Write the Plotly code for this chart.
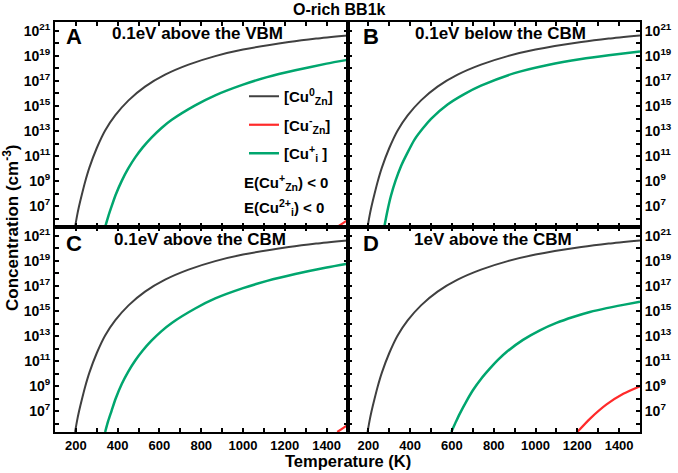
import plotly.graph_objects as go
from plotly.subplots import make_subplots

# temperatures (K) and log10 concentrations (cm^-3)
t_cu0 = [196, 205, 215, 228, 245, 265, 300, 340, 388, 452, 531, 627, 739, 867, 1000, 1219, 1350, 1500]
lg_cu0 = [5.35, 6.2, 7.0, 7.9, 9.0, 10.1, 11.65, 13.05, 14.25, 15.45, 16.55, 17.5, 18.3, 18.98, 19.5, 20.1, 20.38, 20.63]

t_cui_a = [340, 355, 370, 390, 420, 450, 484, 520, 563, 610, 659, 771, 867, 1000, 1115, 1250, 1400, 1500]
lg_cui_a = [5.35, 6.2, 6.95, 7.9, 9.05, 10.0, 10.9, 11.7, 12.5, 13.25, 13.9, 15.05, 15.85, 16.7, 17.3, 17.85, 18.38, 18.68]

t_cui_b = [276, 290, 308, 330, 356, 385, 420, 460, 500, 579, 659, 739, 899, 1059, 1219, 1350, 1500]
lg_cui_b = [5.35, 6.55, 7.84, 9.05, 10.2, 11.2, 12.3, 13.2, 13.98, 15.12, 15.95, 16.62, 17.62, 18.27, 18.75, 19.05, 19.35]

t_cui_c = [340, 355, 370, 390, 420, 450, 484, 520, 563, 610, 659, 771, 867, 1000, 1115, 1250, 1400, 1500]
lg_cui_c = [5.35, 6.25, 7.0, 8.0, 9.2, 10.15, 11.05, 11.85, 12.65, 13.4, 14.05, 15.2, 16.0, 16.82, 17.4, 17.95, 18.47, 18.77]

t_cui_d = [597, 620, 637, 669, 701, 740, 781, 820, 861, 940, 1021, 1100, 1180, 1260, 1340, 1420, 1500]
lg_cui_d = [5.35, 6.2, 6.8, 7.8, 8.7, 9.6, 10.4, 11.1, 11.73, 12.7, 13.46, 14.05, 14.52, 14.92, 15.23, 15.49, 15.73]

t_cum_ac = [1451, 1475, 1500]
lg_cum_ac = [5.35, 5.62, 5.9]

t_cum_d = [1200, 1260, 1340, 1420, 1500]
lg_cum_d = [5.35, 6.4, 7.55, 8.4, 9.0]

panel_letters = ["A", "B", "C", "D"]
panel_titles = ["0.1eV above the VBM", "0.1eV below the CBM", "0.1eV above the CBM", "1eV above the CBM"]

GREY = "#404040"
RED = "#ff2a2a"
GREEN = "#00a66e"
FONT = "Liberation Sans"


def pw(vals):
    return [10.0 ** v for v in vals]


fig = make_subplots(rows=2, cols=2, horizontal_spacing=0, vertical_spacing=0)

panels = [
    (1, 1, lg_cum_ac, t_cum_ac, t_cui_a, lg_cui_a),
    (1, 2, None, None, t_cui_b, lg_cui_b),
    (2, 1, lg_cum_ac, t_cum_ac, t_cui_c, lg_cui_c),
    (2, 2, lg_cum_d, t_cum_d, t_cui_d, lg_cui_d),
]

for i, (r, c, lg_red, t_red, t_green, lg_green) in enumerate(panels):
    first = i == 0
    fig.add_trace(go.Scatter(x=t_cu0, y=pw(lg_cu0), mode="lines", line=dict(color=GREY, width=2, shape="spline", smoothing=0.6),
                             name="[Cu<sup>0</sup><sub>Zn</sub>]", legendgroup="g1", showlegend=first), row=r, col=c)
    if lg_red is not None:
        fig.add_trace(go.Scatter(x=t_red, y=pw(lg_red), mode="lines", line=dict(color=RED, width=2.2, shape="spline", smoothing=0.6),
                                 name="[Cu<sup>-</sup><sub>Zn</sub>]", legendgroup="g2", showlegend=first), row=r, col=c)
    fig.add_trace(go.Scatter(x=t_green, y=pw(lg_green), mode="lines", line=dict(color=GREEN, width=2.5, shape="spline", smoothing=0.6),
                             name="[Cu<sup>+</sup><sub>i</sub> ]", legendgroup="g3", showlegend=first), row=r, col=c)

ytv = [10.0 ** k for k in range(6, 22)]
ytt = ["10<sup>%d</sup>" % k if k % 2 else "" for k in range(6, 22)]
xtv = list(range(200, 1500, 100))
xtt = [str(v) if v % 200 == 0 else "" for v in xtv]

ytickfont = dict(family=FONT, size=14, color="black", weight="bold")
xtickfont = dict(family=FONT, size=13, color="black", weight="bold")

for r in (1, 2):
    for c in (1, 2):
        fig.update_xaxes(range=[100, 1500], tickmode="array", tickvals=xtv, ticktext=xtt,
                         ticks="inside", ticklen=4, tickwidth=1.5, tickcolor="black",
                         showline=True, linecolor="black", linewidth=2, mirror="ticks",
                         showgrid=False, zeroline=False, showticklabels=(r == 2), automargin=False,
                         tickfont=xtickfont, row=r, col=c)
        fig.update_yaxes(type="log", range=[5.35, 21.7], tickmode="array", tickvals=ytv, ticktext=ytt,
                         ticks="inside", ticklen=4, tickwidth=1.5, tickcolor="black",
                         showline=True, linecolor="black", linewidth=2, mirror="ticks",
                         showgrid=False, zeroline=False, side="left" if c == 1 else "right", automargin=False,
                         tickfont=ytickfont, row=r, col=c)

# panel labels and captions
W, H = 678, 473
ml, mr, mt, mb = 55, 38, 22, 41


def px(x):
    return (x - ml) / (W - ml - mr)


def py(y):
    return 1 - (y - mt) / (H - mt - mb)


label_pos = [(64, 36), (361, 36), (64, 243), (361, 243)]
title_pos = [(197, 33), (500, 33), (200, 239), (493, 239)]
ann = []
for k in range(4):
    ann.append(dict(x=px(label_pos[k][0]), y=py(label_pos[k][1]), xref="paper", yref="paper", text=panel_letters[k],
                    showarrow=False, xanchor="left", yanchor="middle", font=dict(family=FONT, size=22, weight="bold", color="black")))
    ann.append(dict(x=px(title_pos[k][0]), y=py(title_pos[k][1]), xref="paper", yref="paper", text=panel_titles[k],
                    showarrow=False, xanchor="center", yanchor="middle", font=dict(family=FONT, size=17, weight="bold", color="black")))

ann.append(dict(x=px(242), y=py(182), xref="paper", yref="paper", text="E(Cu<sup>+</sup><sub>Zn</sub>) &lt; 0",
                showarrow=False, xanchor="left", yanchor="middle", font=dict(family=FONT, size=15, weight="bold", color="black")))
ann.append(dict(x=px(242), y=py(208), xref="paper", yref="paper", text="E(Cu<sup>2+</sup><sub>i</sub>) &lt; 0",
                showarrow=False, xanchor="left", yanchor="middle", font=dict(family=FONT, size=15, weight="bold", color="black")))
ann.append(dict(x=px(339), y=py(10), xref="paper", yref="paper", text="O-rich BB1k",
                showarrow=False, xanchor="center", yanchor="middle", font=dict(family=FONT, size=16, weight="bold", color="black")))
ann.append(dict(x=px(348), y=py(461), xref="paper", yref="paper", text="Temperature (K)",
                showarrow=False, xanchor="center", yanchor="middle", font=dict(family=FONT, size=16.5, weight="bold", color="black")))
ann.append(dict(x=px(11), y=py(228), xref="paper", yref="paper", text="Concentration (cm<sup>-3</sup>)", textangle=-90,
                showarrow=False, xanchor="center", yanchor="middle", font=dict(family=FONT, size=17, weight="bold", color="black")))

fig.update_layout(
    width=W, height=H,
    margin=dict(l=ml, r=mr, t=mt, b=mb, autoexpand=False),
    paper_bgcolor="white", plot_bgcolor="white",
    annotations=ann,
    legend=dict(x=px(338), y=py(80), xanchor="right", yanchor="top", bgcolor="rgba(0,0,0,0)",
                font=dict(family=FONT, size=15, weight="bold", color="black"), tracegroupgap=6),
)

fig.write_html("out.html", config={"displayModeBar": False},
               post_script="document.body.style.margin='0';")
